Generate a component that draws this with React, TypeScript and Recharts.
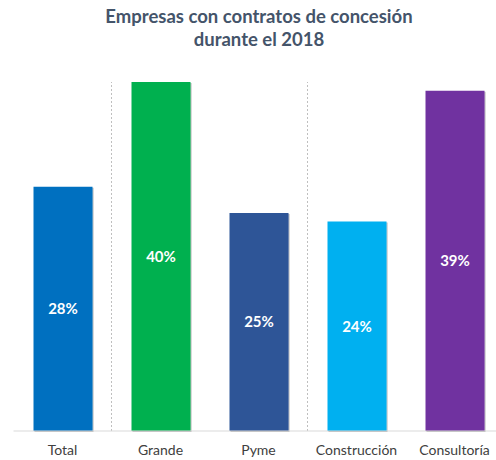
import { Bar, BarChart, Cell, LabelList, ReferenceLine, XAxis, YAxis } from 'recharts';

const categories = ['Total', 'Grande', 'Pyme', 'Construcción', 'Consultoría'];
const shares = [28, 40, 25, 24, 39];
const barColors = ['#0070C0', '#00B050', '#2F5597', '#00B0F0', '#7030A0'];
// dotted group separators sit at the end of these categories
const separatorsAfter = ['Total', 'Pyme'];

const data = categories.map((name, i) => ({ name, value: shares[i] }));

const font = 'Lato, "Open Sans", sans-serif';

export default function App() {
  return (
    <div style={{ position: 'absolute', left: 0, top: 0, width: 496, height: 460, overflow: 'hidden', fontFamily: font }}>
      <svg width={0} height={0} style={{ position: 'absolute' }}>
        <defs>
          <filter id="barShadow" x="-10%" y="-10%" width="130%" height="130%">
            <feDropShadow dx={1} dy={1} stdDeviation={0.7} floodColor="#000" floodOpacity={0.3} />
          </filter>
        </defs>
      </svg>
      <div
        style={{
          position: 'absolute', left: 22, top: 5, width: 474, textAlign: 'center',
          color: '#44546A', fontWeight: 700, fontSize: 18.5, lineHeight: '23px',
        }}
      >
        Empresas con contratos de concesión
        <br />
        durante el 2018
      </div>
      <BarChart
        width={504}
        height={460}
        data={data}
        margin={{ top: 82, right: 0.5, bottom: 0, left: 13.5 }}
      >
        <XAxis
          dataKey="name"
          height={29}
          tickLine={false}
          axisLine={{ stroke: '#d9d9d9' }}
          tick={{ fill: '#404040', fontSize: 14, fontFamily: font }}
          tickMargin={8}
          interval={0}
        />
        <YAxis hide domain={[0, 40]} />
        {separatorsAfter.map((c) => (
          <ReferenceLine key={c} x={c} position="end" stroke="#bfbfbf" strokeDasharray="2 2" />
        ))}
        <Bar dataKey="value" barSize={59} isAnimationActive={false} style={{ filter: 'url(#barShadow)' }}>
          {data.map((d, i) => (
            <Cell key={d.name} fill={barColors[i]} />
          ))}
          <LabelList
            dataKey="value"
            position="center"
            formatter={(v: number) => `${v}%`}
            style={{ fill: '#fff', fontWeight: 700, fontSize: 15, fontFamily: font }}
          />
        </Bar>
      </BarChart>
    </div>
  );
}
